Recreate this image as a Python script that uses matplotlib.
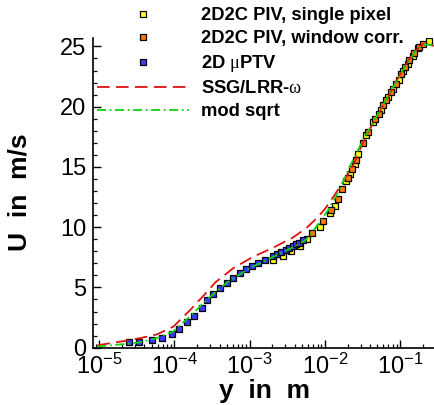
import matplotlib
matplotlib.use("Agg")
import matplotlib.pyplot as plt
from matplotlib.lines import Line2D
from matplotlib.ticker import LogLocator, MultipleLocator, NullFormatter

plt.rcParams['font.family'] = ['Liberation Sans', 'DejaVu Sans']
plt.rcParams['mathtext.fontset'] = 'custom'
plt.rcParams['mathtext.rm'] = 'Liberation Sans'
plt.rcParams['mathtext.sf'] = 'Liberation Serif'

# ---- data (y in m, U in m/s) ----
ptv_y = [2.54e-5, 3.35e-5, 5.04e-5, 6.82e-5, 9.27e-5, 1.17e-4, 1.49e-4, 1.83e-4,
         2.31e-4, 2.69e-4, 3.30e-4, 4.05e-4, 4.95e-4, 6.07e-4, 7.43e-4, 8.93e-4,
         1.08e-3, 1.30e-3, 1.60e-3, 2.02e-3, 2.32e-3, 2.65e-3, 3.03e-3, 3.35e-3,
         3.72e-3, 4.10e-3, 4.54e-3, 5.13e-3]
ptv_u = [0.45, 0.50, 0.60, 0.80, 1.11, 1.53, 2.10, 2.65,
         3.32, 3.92, 4.42, 4.97, 5.40, 5.80, 6.16, 6.50,
         6.82, 7.05, 7.28, 7.58, 7.78, 7.98, 8.13, 8.27,
         8.41, 8.57, 8.71, 8.92]

sp_y = [2.02e-3, 2.74e-3, 3.60e-3, 4.63e-3, 5.79e-3, 8.53e-3, 1.16e-2, 1.35e-2,
        1.93e-2, 2.13e-2, 2.48e-2, 2.75e-2, 3.48e-2, 4.37e-2, 5.60e-2, 6.85e-2,
        7.98e-2, 9.57e-2, 0.108, 0.126, 0.147, 0.174, 0.240]
sp_u = [7.27, 7.65, 8.05, 8.46, 8.98, 10.0, 11.2, 11.75,
        13.8, 14.45, 15.28, 16.1, 17.62, 18.7, 19.75, 20.8,
        21.5, 22.24, 22.95, 23.56, 24.17, 24.9, 25.48]

wc_y = [6.82e-3, 9.44e-3, 1.22e-2, 1.49e-2, 1.71e-2, 2.02e-2, 2.31e-2, 2.56e-2,
        3.20e-2, 3.80e-2, 4.57e-2, 5.21e-2, 5.89e-2, 6.52e-2, 7.59e-2, 8.85e-2,
        0.103, 0.117, 0.133, 0.155, 0.176, 0.204]
wc_u = [9.48, 10.5, 11.46, 12.32, 13.2, 14.09, 14.86, 15.6,
        17.02, 17.9, 19.0, 19.42, 20.1, 20.52, 21.2, 21.9,
        22.73, 23.28, 23.84, 24.44, 24.94, 25.22]

ssg_y = [9.5e-6, 2.12e-5, 3.55e-5, 5.86e-5, 9.73e-5, 1.62e-4, 2.43e-4, 3.55e-4,
         6.07e-4, 1.12e-3, 2.06e-3, 3.78e-3, 5.62e-3, 7.73e-3, 1.0e-2, 1.29e-2,
         1.74e-2, 2.36e-2, 3.20e-2, 4.33e-2, 6.53e-2, 9.79e-2, 0.147, 0.200, 0.282]
ssg_u = [0.2, 0.55, 0.8, 1.1, 1.75, 3.12, 4.3, 5.45,
         6.6, 7.55, 8.3, 9.15, 9.9, 10.72, 11.5, 12.5,
         13.75, 15.1, 17.0, 18.6, 20.52, 22.6, 24.4, 25.2, 25.05]

msq_y = [9.5e-6, 2.14e-5, 3.52e-5, 5.86e-5, 9.73e-5, 1.62e-4, 2.43e-4, 3.66e-4,
         5.01e-4, 1.0e-3, 2.0e-3, 3.98e-3, 5.62e-3, 7.41e-3, 1.10e-2, 1.57e-2,
         2.13e-2, 3.20e-2, 4.81e-2, 7.21e-2, 0.108, 0.162, 0.209, 0.282]
msq_u = [0.1, 0.3, 0.45, 0.8, 1.35, 2.6, 3.7, 4.7,
         5.4, 6.6, 7.5, 8.4, 8.95, 9.9, 11.4, 13.1,
         15.0, 17.2, 19.14, 21.08, 23.0, 24.66, 25.15, 25.1]

labels = ['2D2C PIV, single pixel', '2D2C PIV, window corr.',
          r'2D $\mathsf{\mu}$PTV', r'SSG/LRR-$\mathsf{\omega}$', 'mod sqrt']

c_yellow = '#ffff1a'
c_orange = '#ff7a00'
c_blue = '#3a3aff'
c_red = '#e01010'
c_green = '#10d010'

W, H = 435, 405
fig = plt.figure(figsize=(W / 100, H / 100), dpi=100)
ax = fig.add_axes([93 / W, 1 - 347.7 / H, (434 - 93) / W, (347.7 - 38) / H])

mk = dict(marker='s', markersize=4.7, markeredgecolor='black', markeredgewidth=0.9,
          linestyle='none')
ax.plot(sp_y, sp_u, markerfacecolor=c_yellow, **mk)
ax.plot(wc_y, wc_u, markerfacecolor=c_orange, **mk)
ax.plot(ptv_y, ptv_u, markerfacecolor=c_blue, **mk)
ax.plot(ssg_y, ssg_u, color=c_red, lw=1.3, dashes=(7, 3.5))
ax.plot(msq_y, msq_u, color=c_green, lw=1.3, dashes=(5, 2, 1, 2))

ax.set_xscale('log')
ax.set_xlim(10 ** -5.08, 10 ** -0.55)
ax.set_ylim(0, 25.7)
ax.set_yticks([0, 5, 10, 15, 20, 25])
ax.yaxis.set_minor_locator(MultipleLocator(1))
ax.xaxis.set_major_locator(LogLocator(base=10, numticks=20))
ax.xaxis.set_minor_locator(LogLocator(base=10, subs=range(2, 10), numticks=20))
ax.xaxis.set_minor_formatter(NullFormatter())

for s in ['top', 'right']:
    ax.spines[s].set_visible(False)
for s in ['left', 'bottom']:
    ax.spines[s].set_linewidth(1.2)
ax.tick_params(which='major', direction='in', length=6, width=1.0, labelsize=17, pad=4)
ax.tick_params(which='minor', direction='in', length=3, width=0.9)
ax.tick_params(top=False, right=False, which='both')
ax.tick_params(axis='y', pad=5)

ax.set_xlabel('y  in  m', fontsize=19, fontweight='bold')
ax.set_ylabel('U  in  m/s', fontsize=19, fontweight='bold')
ax.xaxis.label.set_va('center')
ax.yaxis.label.set_va('center')
ax.xaxis.set_label_coords((265 - 93) / 341, (347.7 - 391) / 309.7)
ax.yaxis.set_label_coords((20 - 93) / 341, (347.7 - 192.5) / 309.7)

handles = [
    Line2D([], [], markerfacecolor=c_yellow, **mk),
    Line2D([], [], markerfacecolor=c_orange, **mk),
    Line2D([], [], markerfacecolor=c_blue, **mk),
    Line2D([], [], color=c_red, lw=1.3, dashes=(7, 3.5)),
    Line2D([], [], color=c_green, lw=1.3, dashes=(5, 2, 1, 2)),
]
leg = fig.legend(handles, labels, loc='upper left',
                 bbox_to_anchor=(97 / W, 1 - 7 / H), bbox_transform=fig.transFigure,
                 frameon=False, borderpad=0, borderaxespad=0,
                 handlelength=5.0, handletextpad=0.7, labelspacing=0.33,
                 prop=dict(family='Liberation Sans', weight='bold', size=13.2))

fig.savefig('out.png', dpi=100)
